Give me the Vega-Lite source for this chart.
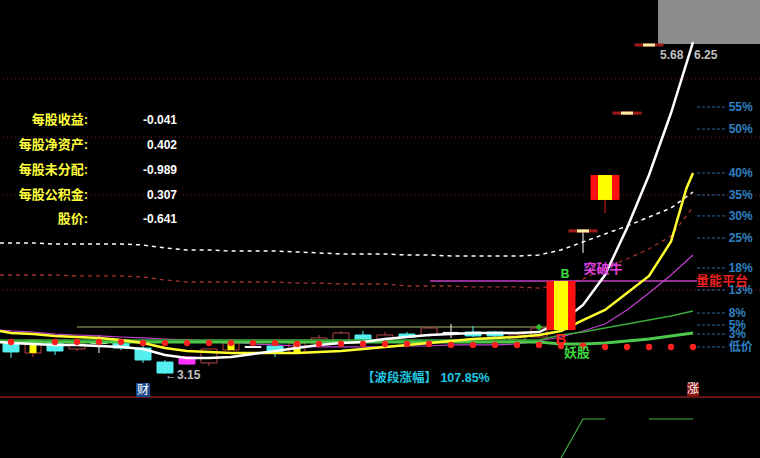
{
"$schema": "https://vega.github.io/schema/vega-lite/v6.json",
"width": 760, "height": 458, "padding": 0,
"autosize": {"type": "none"},
"background": "#000000",
"config": {"view": {"stroke": null}, "scale": {"continuousPadding": 0}, "text": {"font": "Liberation Sans, Noto Sans CJK SC, sans-serif"}},
"datasets": {
"grid": [{"p": 5.933}, {"p": 5.386}, {"p": 4.839}, {"p": 3.943}],
"lines": [
{"s":"W","k":-0.5,"p":3.452},{"s":"W","k":0,"p":3.442},{"s":"W","k":1,"p":3.433},{"s":"W","k":2,"p":3.424},{"s":"W","k":3,"p":3.424},{"s":"W","k":4,"p":3.414},{"s":"W","k":5,"p":3.405},{"s":"W","k":6,"p":3.386},{"s":"W","k":7,"p":3.329},{"s":"W","k":8,"p":3.301},{"s":"W","k":9,"p":3.301},{"s":"W","k":10,"p":3.310},{"s":"W","k":11,"p":3.339},{"s":"W","k":12,"p":3.367},{"s":"W","k":13,"p":3.395},{"s":"W","k":14,"p":3.424},{"s":"W","k":15,"p":3.442},{"s":"W","k":16,"p":3.452},{"s":"W","k":17,"p":3.480},{"s":"W","k":18,"p":3.499},{"s":"W","k":19,"p":3.518},{"s":"W","k":20,"p":3.527},{"s":"W","k":21,"p":3.537},{"s":"W","k":22,"p":3.537},{"s":"W","k":23,"p":3.537},{"s":"W","k":24,"p":3.546},{"s":"W","k":25,"p":3.64},{"s":"W","k":26,"p":3.801},{"s":"W","k":27,"p":4.084},{"s":"W","k":28,"p":4.527},{"s":"W","k":29,"p":5.027},{"s":"W","k":30,"p":5.612},{"s":"W","k":31,"p":6.282},
{"s":"Y","k":-0.5,"p":3.556},{"s":"Y","k":0,"p":3.537},{"s":"Y","k":1,"p":3.527},{"s":"Y","k":2,"p":3.509},{"s":"Y","k":3,"p":3.499},{"s":"Y","k":4,"p":3.490},{"s":"Y","k":5,"p":3.471},{"s":"Y","k":6,"p":3.442},{"s":"Y","k":7,"p":3.395},{"s":"Y","k":8,"p":3.367},{"s":"Y","k":9,"p":3.358},{"s":"Y","k":10,"p":3.348},{"s":"Y","k":11,"p":3.348},{"s":"Y","k":12,"p":3.348},{"s":"Y","k":13,"p":3.348},{"s":"Y","k":14,"p":3.358},{"s":"Y","k":15,"p":3.367},{"s":"Y","k":16,"p":3.386},{"s":"Y","k":17,"p":3.405},{"s":"Y","k":18,"p":3.424},{"s":"Y","k":19,"p":3.442},{"s":"Y","k":20,"p":3.461},{"s":"Y","k":21,"p":3.480},{"s":"Y","k":22,"p":3.490},{"s":"Y","k":23,"p":3.499},{"s":"Y","k":24,"p":3.518},{"s":"Y","k":25,"p":3.556},{"s":"Y","k":26,"p":3.659},{"s":"Y","k":27,"p":3.754},{"s":"Y","k":28,"p":3.914},{"s":"Y","k":29,"p":4.075},{"s":"Y","k":30,"p":4.40},{"s":"Y","k":30.7,"p":4.90},{"s":"Y","k":31,"p":5.046},
{"s":"M","k":-0.5,"p":3.565},{"s":"M","k":0,"p":3.556},{"s":"M","k":1,"p":3.546},{"s":"M","k":2,"p":3.527},{"s":"M","k":3,"p":3.518},{"s":"M","k":4,"p":3.509},{"s":"M","k":5,"p":3.499},{"s":"M","k":6,"p":3.490},{"s":"M","k":7,"p":3.480},{"s":"M","k":8,"p":3.471},{"s":"M","k":9,"p":3.461},{"s":"M","k":10,"p":3.452},{"s":"M","k":11,"p":3.433},{"s":"M","k":12,"p":3.424},{"s":"M","k":13,"p":3.414},{"s":"M","k":14,"p":3.405},{"s":"M","k":15,"p":3.405},{"s":"M","k":16,"p":3.405},{"s":"M","k":17,"p":3.405},{"s":"M","k":18,"p":3.414},{"s":"M","k":19,"p":3.414},{"s":"M","k":20,"p":3.424},{"s":"M","k":21,"p":3.424},{"s":"M","k":22,"p":3.424},{"s":"M","k":23,"p":3.433},{"s":"M","k":24,"p":3.461},{"s":"M","k":25,"p":3.499},{"s":"M","k":26,"p":3.556},{"s":"M","k":27,"p":3.622},{"s":"M","k":28,"p":3.754},{"s":"M","k":29,"p":3.914},{"s":"M","k":30,"p":4.084},{"s":"M","k":31,"p":4.273},
{"s":"GU","k":-0.5,"p":3.471},{"s":"GU","k":24,"p":3.471},{"s":"GU","k":25,"p":3.518},{"s":"GU","k":26,"p":3.546},{"s":"GU","k":27,"p":3.584},{"s":"GU","k":28,"p":3.622},{"s":"GU","k":29,"p":3.659},{"s":"GU","k":30,"p":3.697},{"s":"GU","k":31,"p":3.744},
{"s":"GL","k":-0.5,"p":3.452},{"s":"GL","k":24,"p":3.452},{"s":"GL","k":25,"p":3.433},{"s":"GL","k":26,"p":3.433},{"s":"GL","k":27,"p":3.442},{"s":"GL","k":28,"p":3.461},{"s":"GL","k":29,"p":3.480},{"s":"GL","k":30,"p":3.509},{"s":"GL","k":31,"p":3.537},
{"s":"WD","k":-0.5,"p":4.386},{"s":"WD","k":0,"p":4.386},{"s":"WD","k":1,"p":4.386},{"s":"WD","k":2,"p":4.376},{"s":"WD","k":3,"p":4.376},{"s":"WD","k":4,"p":4.376},{"s":"WD","k":5,"p":4.376},{"s":"WD","k":6,"p":4.367},{"s":"WD","k":7,"p":4.339},{"s":"WD","k":8,"p":4.320},{"s":"WD","k":9,"p":4.320},{"s":"WD","k":10,"p":4.310},{"s":"WD","k":11,"p":4.310},{"s":"WD","k":12,"p":4.310},{"s":"WD","k":13,"p":4.301},{"s":"WD","k":14,"p":4.292},{"s":"WD","k":15,"p":4.282},{"s":"WD","k":16,"p":4.282},{"s":"WD","k":17,"p":4.282},{"s":"WD","k":18,"p":4.273},{"s":"WD","k":19,"p":4.273},{"s":"WD","k":20,"p":4.263},{"s":"WD","k":21,"p":4.263},{"s":"WD","k":22,"p":4.263},{"s":"WD","k":23,"p":4.263},{"s":"WD","k":24,"p":4.273},{"s":"WD","k":25,"p":4.320},{"s":"WD","k":26,"p":4.395},{"s":"WD","k":27,"p":4.471},{"s":"WD","k":28,"p":4.546},{"s":"WD","k":29,"p":4.631},{"s":"WD","k":30,"p":4.716},{"s":"WD","k":31,"p":4.867},
{"s":"RD","k":-0.5,"p":4.084},{"s":"RD","k":0,"p":4.084},{"s":"RD","k":1,"p":4.084},{"s":"RD","k":2,"p":4.084},{"s":"RD","k":3,"p":4.075},{"s":"RD","k":4,"p":4.075},{"s":"RD","k":5,"p":4.075},{"s":"RD","k":6,"p":4.065},{"s":"RD","k":7,"p":4.037},{"s":"RD","k":8,"p":4.018},{"s":"RD","k":9,"p":4.018},{"s":"RD","k":10,"p":4.018},{"s":"RD","k":11,"p":4.018},{"s":"RD","k":12,"p":4.018},{"s":"RD","k":13,"p":4.008},{"s":"RD","k":14,"p":4.008},{"s":"RD","k":15,"p":3.999},{"s":"RD","k":16,"p":3.999},{"s":"RD","k":17,"p":3.999},{"s":"RD","k":18,"p":3.980},{"s":"RD","k":19,"p":3.980},{"s":"RD","k":20,"p":3.980},{"s":"RD","k":21,"p":3.971},{"s":"RD","k":22,"p":3.971},{"s":"RD","k":23,"p":3.971},{"s":"RD","k":24,"p":3.961},{"s":"RD","k":25,"p":3.989},{"s":"RD","k":26,"p":4.046},{"s":"RD","k":27,"p":4.150},{"s":"RD","k":28,"p":4.235},{"s":"RD","k":29,"p":4.329},{"s":"RD","k":30,"p":4.452},{"s":"RD","k":31,"p":4.725}
],
"candles": [
{"k":0,"t":"dn","o":3.442,"c":3.358,"h":3.442,"l":3.301},
{"k":1,"t":"yl","o":3.348,"c":3.471,"h":3.471,"l":3.310},
{"k":2,"t":"dn","o":3.442,"c":3.367,"h":3.452,"l":3.329},
{"k":3,"t":"up","o":3.386,"c":3.433,"h":3.442,"l":3.367},
{"k":4,"t":"dj","o":3.447,"c":3.437,"h":3.518,"l":3.348},
{"k":5,"t":"dn","o":3.452,"c":3.395,"h":3.461,"l":3.376},
{"k":6,"t":"dn","o":3.395,"c":3.282,"h":3.414,"l":3.254},
{"k":7,"t":"dn","o":3.263,"c":3.159,"h":3.282,"l":3.150},
{"k":8,"t":"mg","o":3.244,"c":3.310,"h":3.310,"l":3.235},
{"k":9,"t":"up","o":3.254,"c":3.386,"h":3.386,"l":3.226},
{"k":10,"t":"yl","o":3.376,"c":3.442,"h":3.480,"l":3.376},
{"k":11,"t":"dj","o":3.410,"c":3.400,"h":3.414,"l":3.395},
{"k":12,"t":"dn","o":3.414,"c":3.358,"h":3.424,"l":3.310},
{"k":13,"t":"yl","o":3.348,"c":3.442,"h":3.461,"l":3.348},
{"k":14,"t":"up","o":3.442,"c":3.490,"h":3.518,"l":3.433},
{"k":15,"t":"up","o":3.452,"c":3.537,"h":3.556,"l":3.442},
{"k":16,"t":"dn","o":3.518,"c":3.471,"h":3.556,"l":3.452},
{"k":17,"t":"up","o":3.471,"c":3.518,"h":3.546,"l":3.461},
{"k":18,"t":"dn","o":3.527,"c":3.499,"h":3.546,"l":3.490},
{"k":19,"t":"up","o":3.518,"c":3.584,"h":3.593,"l":3.499},
{"k":20,"t":"dj","o":3.542,"c":3.532,"h":3.622,"l":3.490},
{"k":21,"t":"dn","o":3.546,"c":3.509,"h":3.603,"l":3.499},
{"k":22,"t":"dn","o":3.546,"c":3.509,"h":3.556,"l":3.490},
{"k":23,"t":"up","o":3.471,"c":3.518,"h":3.537,"l":3.461},
{"k":24,"t":"up","o":3.499,"c":3.584,"h":3.603,"l":3.490},
{"k":25,"t":"bg","o":3.565,"c":4.027,"h":4.027,"l":3.565},
{"k":26,"t":"fw","o":4.485,"c":4.514,"h":4.514,"l":4.292},
{"k":27,"t":"bg","o":4.792,"c":5.027,"h":5.027,"l":4.669},
{"k":28,"t":"fl","o":5.597,"c":5.626,"h":5.626,"l":5.597},
{"k":29,"t":"fl","o":6.240,"c":6.268,"h":6.268,"l":6.240}
],
"dots": [
{"k":0,"p":3.452},{"k":2,"p":3.452},{"k":3,"p":3.452},{"k":4,"p":3.452},{"k":5,"p":3.452},{"k":6,"p":3.442},{"k":7,"p":3.442},{"k":8,"p":3.442},{"k":9,"p":3.442},{"k":10,"p":3.442},{"k":11,"p":3.442},{"k":12,"p":3.442},{"k":13,"p":3.433},{"k":14,"p":3.433},{"k":15,"p":3.433},{"k":16,"p":3.433},{"k":17,"p":3.433},{"k":18,"p":3.433},{"k":19,"p":3.433},{"k":20,"p":3.424},{"k":21,"p":3.424},{"k":22,"p":3.424},{"k":23,"p":3.424},{"k":24,"p":3.424},{"k":25,"p":3.414},{"k":26,"p":3.414},{"k":27,"p":3.405},{"k":28,"p":3.405},{"k":29,"p":3.405},{"k":30,"p":3.405},{"k":31,"p":3.405}
],
"fin": [
{"n":"每股收益:","v":"-0.041","p":5.546},
{"n":"每股净资产:","v":"0.402","p":5.310},
{"n":"每股未分配:","v":"-0.989","p":5.075},
{"n":"每股公积金:","v":"0.307","p":4.839},
{"n":"股价:","v":"-0.641","p":4.612}
],
"pct": [
{"t":"55%","p":5.669},{"t":"50%","p":5.461},{"t":"40%","p":5.046},{"t":"35%","p":4.839},{"t":"30%","p":4.641},{"t":"25%","p":4.433},{"t":"18%","p":4.150},{"t":"13%","p":3.943},{"t":"8%","p":3.725},{"t":"5%","p":3.612},{"t":"3%","p":3.527},{"t":"低价","p":3.405}
],
"lowpanel": [
{"k":25,"p":2.3575,"g":"a"},{"k":26,"p":2.7255,"g":"a"},{"k":27,"p":2.7255,"g":"a"},
{"k":29,"p":2.7255,"g":"b"},{"k":30,"p":2.7255,"g":"b"},{"k":31,"p":2.7255,"g":"b"}
]
},
"layer": [
{"data": {"name": "grid"}, "mark": {"type": "rule", "color": "#7a1616", "strokeDash": [1, 3], "strokeWidth": 1},
 "encoding": {"y": {"field": "p", "type": "quantitative", "scale": {"domain": [2.3575, 6.6783], "nice": false, "zero": false}, "axis": null}}},
{"data": {"values": [{"p": 2.933}]}, "mark": {"type": "rule", "color": "#8b1c1c", "strokeWidth": 1.5},
 "encoding": {"y": {"field": "p", "type": "quantitative", "scale": {"domain": [2.3575, 6.6783], "nice": false, "zero": false}, "axis": null}}},
{"data": {"values": [{"k": 29.41, "k2": 34.045, "p": 6.263, "p2": 6.6783}]}, "mark": {"type": "rect", "color": "#8c8c8c"},
 "encoding": {"x": {"field": "k", "type": "quantitative", "scale": {"domain": [-0.5, 34.045], "nice": false, "zero": false, "padding": 0}, "axis": null}, "x2": {"field": "k2"},
  "y": {"field": "p", "type": "quantitative", "scale": {"domain": [2.3575, 6.6783], "nice": false, "zero": false}, "axis": null}, "y2": {"field": "p2"}}},
{"data": {"name": "lines"}, "transform": [{"filter": "datum.s === 'WD'"}], "mark": {"type": "line", "color": "#ffffff", "strokeWidth": 1.5, "strokeDash": [4, 4]},
 "encoding": {"x": {"field": "k", "type": "quantitative", "scale": {"domain": [-0.5, 34.045], "nice": false, "zero": false, "padding": 0}, "axis": null},
  "y": {"field": "p", "type": "quantitative", "scale": {"domain": [2.3575, 6.6783], "nice": false, "zero": false}, "axis": null}}},
{"data": {"name": "lines"}, "transform": [{"filter": "datum.s === 'RD'"}], "mark": {"type": "line", "color": "#a83030", "strokeWidth": 1.3, "strokeDash": [4, 4]},
 "encoding": {"x": {"field": "k", "type": "quantitative", "scale": {"domain": [-0.5, 34.045], "nice": false, "zero": false, "padding": 0}, "axis": null},
  "y": {"field": "p", "type": "quantitative", "scale": {"domain": [2.3575, 6.6783], "nice": false, "zero": false}, "axis": null}}},
{"data": {"values": [{"k": 3, "k2": 25, "p": 3.593}]}, "mark": {"type": "rule", "color": "#6b7b45", "strokeWidth": 1.5},
 "encoding": {"x": {"field": "k", "type": "quantitative", "scale": {"domain": [-0.5, 34.045], "nice": false, "zero": false, "padding": 0}, "axis": null}, "x2": {"field": "k2"},
  "y": {"field": "p", "type": "quantitative", "scale": {"domain": [2.3575, 6.6783], "nice": false, "zero": false}, "axis": null}}},
{"data": {"values": [{"k": 19.05, "k2": 31.18, "p": 4.027}]}, "mark": {"type": "rule", "color": "#c040c0", "strokeWidth": 1.5},
 "encoding": {"x": {"field": "k", "type": "quantitative", "scale": {"domain": [-0.5, 34.045], "nice": false, "zero": false, "padding": 0}, "axis": null}, "x2": {"field": "k2"},
  "y": {"field": "p", "type": "quantitative", "scale": {"domain": [2.3575, 6.6783], "nice": false, "zero": false}, "axis": null}}},
{"data": {"name": "candles"}, "transform": [{"filter": "indexof(['bg','fl','fw'], datum.t) < 0"}], "mark": {"type": "rule", "strokeWidth": 1},
 "encoding": {"x": {"field": "k", "type": "quantitative", "scale": {"domain": [-0.5, 34.045], "nice": false, "zero": false, "padding": 0}, "axis": null},
  "y": {"field": "l", "type": "quantitative", "scale": {"domain": [2.3575, 6.6783], "nice": false, "zero": false}, "axis": null}, "y2": {"field": "h"},
  "color": {"field": "t", "type": "nominal", "legend": null, "scale": {"domain": ["dn","up","yl","mg","dj","bg","fl","fw"], "range": ["#54f0f0","#b84848","#c84040","#ff30ff","#ffffff","#e02020","#a02020","#ffffff"]}}}},
{"data": {"name": "candles"}, "transform": [{"filter": "indexof(['bg','fl','fw'], datum.t) < 0"}], "mark": {"type": "bar", "width": 16, "strokeWidth": 1},
 "encoding": {"x": {"field": "k", "type": "quantitative", "scale": {"domain": [-0.5, 34.045], "nice": false, "zero": false, "padding": 0}, "axis": null},
  "y": {"field": "o", "type": "quantitative", "scale": {"domain": [2.3575, 6.6783], "nice": false, "zero": false}, "axis": null}, "y2": {"field": "c"},
  "fill": {"field": "t", "type": "nominal", "legend": null, "scale": {"domain": ["dn","up","yl","mg","dj","bg","fl","fw"], "range": ["#54f0f0","#000000","#000000","#ff30ff","#ffffff","#ff1010","#a01c1c","#a01c1c"]}},
  "stroke": {"field": "t", "type": "nominal", "legend": null, "scale": {"domain": ["dn","up","yl","mg","dj","bg","fl","fw"], "range": ["#54f0f0","#b84848","#c84040","#ff30ff","#ffffff","#ff1010","#a01c1c","#a01c1c"]}}}},
{"data": {"name": "candles"}, "transform": [{"filter": "datum.t === 'yl'"}], "mark": {"type": "bar", "width": 7, "color": "#ffff00"},
 "encoding": {"x": {"field": "k", "type": "quantitative", "scale": {"domain": [-0.5, 34.045], "nice": false, "zero": false, "padding": 0}, "axis": null},
  "y": {"field": "o", "type": "quantitative", "scale": {"domain": [2.3575, 6.6783], "nice": false, "zero": false}, "axis": null}, "y2": {"field": "c"}}},
{"data": {"name": "lines"}, "transform": [{"filter": "datum.s === 'M'"}], "mark": {"type": "line", "color": "#c040d0", "strokeWidth": 1.2},
 "encoding": {"x": {"field": "k", "type": "quantitative", "scale": {"domain": [-0.5, 34.045], "nice": false, "zero": false, "padding": 0}, "axis": null},
  "y": {"field": "p", "type": "quantitative", "scale": {"domain": [2.3575, 6.6783], "nice": false, "zero": false}, "axis": null}}},
{"data": {"name": "lines"}, "transform": [{"filter": "datum.s === 'GL'"}], "mark": {"type": "line", "color": "#4cc84c", "strokeWidth": 3},
 "encoding": {"x": {"field": "k", "type": "quantitative", "scale": {"domain": [-0.5, 34.045], "nice": false, "zero": false, "padding": 0}, "axis": null},
  "y": {"field": "p", "type": "quantitative", "scale": {"domain": [2.3575, 6.6783], "nice": false, "zero": false}, "axis": null}}},
{"data": {"name": "lines"}, "transform": [{"filter": "datum.s === 'GU'"}], "mark": {"type": "line", "color": "#3aaa3a", "strokeWidth": 1.5},
 "encoding": {"x": {"field": "k", "type": "quantitative", "scale": {"domain": [-0.5, 34.045], "nice": false, "zero": false, "padding": 0}, "axis": null},
  "y": {"field": "p", "type": "quantitative", "scale": {"domain": [2.3575, 6.6783], "nice": false, "zero": false}, "axis": null}}},
{"data": {"name": "lines"}, "transform": [{"filter": "datum.s === 'Y'"}], "mark": {"type": "line", "color": "#ffff30", "strokeWidth": 2.5},
 "encoding": {"x": {"field": "k", "type": "quantitative", "scale": {"domain": [-0.5, 34.045], "nice": false, "zero": false, "padding": 0}, "axis": null},
  "y": {"field": "p", "type": "quantitative", "scale": {"domain": [2.3575, 6.6783], "nice": false, "zero": false}, "axis": null}}},
{"data": {"name": "lines"}, "transform": [{"filter": "datum.s === 'W'"}], "mark": {"type": "line", "color": "#ffffff", "strokeWidth": 2.5},
 "encoding": {"x": {"field": "k", "type": "quantitative", "scale": {"domain": [-0.5, 34.045], "nice": false, "zero": false, "padding": 0}, "axis": null},
  "y": {"field": "p", "type": "quantitative", "scale": {"domain": [2.3575, 6.6783], "nice": false, "zero": false}, "axis": null}}},
{"data": {"name": "candles"}, "transform": [{"filter": "indexof(['bg','fl','fw'], datum.t) >= 0"}], "mark": {"type": "rule", "strokeWidth": 1},
 "encoding": {"x": {"field": "k", "type": "quantitative", "scale": {"domain": [-0.5, 34.045], "nice": false, "zero": false, "padding": 0}, "axis": null},
  "y": {"field": "l", "type": "quantitative", "scale": {"domain": [2.3575, 6.6783], "nice": false, "zero": false}, "axis": null}, "y2": {"field": "h"},
  "color": {"field": "t", "type": "nominal", "legend": null, "scale": {"domain": ["dn","up","yl","mg","dj","bg","fl","fw"], "range": ["#54f0f0","#b84848","#c84040","#ff30ff","#ffffff","#e02020","#a02020","#ffffff"]}}}},
{"data": {"name": "candles"}, "transform": [{"filter": "indexof(['bg','fl','fw'], datum.t) >= 0"}], "mark": {"type": "bar", "width": 29, "strokeWidth": 0},
 "encoding": {"x": {"field": "k", "type": "quantitative", "scale": {"domain": [-0.5, 34.045], "nice": false, "zero": false, "padding": 0}, "axis": null},
  "y": {"field": "o", "type": "quantitative", "scale": {"domain": [2.3575, 6.6783], "nice": false, "zero": false}, "axis": null}, "y2": {"field": "c"},
  "fill": {"field": "t", "type": "nominal", "legend": null, "scale": {"domain": ["dn","up","yl","mg","dj","bg","fl","fw"], "range": ["#54f0f0","#000000","#000000","#ff30ff","#ffffff","#ff1010","#a01c1c","#a01c1c"]}}}},
{"data": {"name": "candles"}, "transform": [{"filter": "datum.t === 'bg'"}], "mark": {"type": "bar", "width": 14, "color": "#ffff00"},
 "encoding": {"x": {"field": "k", "type": "quantitative", "scale": {"domain": [-0.5, 34.045], "nice": false, "zero": false, "padding": 0}, "axis": null},
  "y": {"field": "o", "type": "quantitative", "scale": {"domain": [2.3575, 6.6783], "nice": false, "zero": false}, "axis": null}, "y2": {"field": "c"}}},
{"data": {"name": "candles"}, "transform": [{"filter": "datum.t === 'fl' || datum.t === 'fw'"}], "mark": {"type": "bar", "width": 12, "color": "#fff0a0"},
 "encoding": {"x": {"field": "k", "type": "quantitative", "scale": {"domain": [-0.5, 34.045], "nice": false, "zero": false, "padding": 0}, "axis": null},
  "y": {"field": "o", "type": "quantitative", "scale": {"domain": [2.3575, 6.6783], "nice": false, "zero": false}, "axis": null}, "y2": {"field": "c"}}},
{"data": {"name": "dots"}, "mark": {"type": "point", "filled": true, "shape": "circle", "size": 40, "color": "#ff2020", "opacity": 1},
 "encoding": {"x": {"field": "k", "type": "quantitative", "scale": {"domain": [-0.5, 34.045], "nice": false, "zero": false, "padding": 0}, "axis": null},
  "y": {"field": "p", "type": "quantitative", "scale": {"domain": [2.3575, 6.6783], "nice": false, "zero": false}, "axis": null}}},
{"data": {"values": [{"k": 24, "p": 3.593}]}, "mark": {"type": "point", "filled": true, "shape": "diamond", "size": 45, "color": "#30c030", "opacity": 1},
 "encoding": {"x": {"field": "k", "type": "quantitative", "scale": {"domain": [-0.5, 34.045], "nice": false, "zero": false, "padding": 0}, "axis": null},
  "y": {"field": "p", "type": "quantitative", "scale": {"domain": [2.3575, 6.6783], "nice": false, "zero": false}, "axis": null}}},
{"data": {"name": "pct"}, "mark": {"type": "rule", "color": "#2a6aa0", "strokeDash": [3, 2], "strokeWidth": 1},
 "encoding": {"x": {"datum": 31.18, "type": "quantitative", "scale": {"domain": [-0.5, 34.045], "nice": false, "zero": false, "padding": 0}, "axis": null}, "x2": {"datum": 32.55},
  "y": {"field": "p", "type": "quantitative", "scale": {"domain": [2.3575, 6.6783], "nice": false, "zero": false}, "axis": null}}},
{"data": {"name": "pct"}, "mark": {"type": "text", "align": "left", "baseline": "middle", "fontSize": 12, "fontWeight": "bold", "color": "#2f80c0"},
 "encoding": {"x": {"datum": 32.62, "type": "quantitative", "scale": {"domain": [-0.5, 34.045], "nice": false, "zero": false, "padding": 0}, "axis": null},
  "y": {"field": "p", "type": "quantitative", "scale": {"domain": [2.3575, 6.6783], "nice": false, "zero": false}, "axis": null}, "text": {"field": "t"}}},
{"data": {"name": "lowpanel"}, "mark": {"type": "line", "color": "#40b040", "strokeWidth": 1.2},
 "encoding": {"x": {"field": "k", "type": "quantitative", "scale": {"domain": [-0.5, 34.045], "nice": false, "zero": false, "padding": 0}, "axis": null},
  "y": {"field": "p", "type": "quantitative", "scale": {"domain": [2.3575, 6.6783], "nice": false, "zero": false}, "axis": null}, "detail": {"field": "g"}}},
{"data": {"values": [{"k": 5.68, "k2": 6.32, "p": 2.933, "p2": 3.065}]}, "mark": {"type": "rect", "color": "#1a4a8c"},
 "encoding": {"x": {"field": "k", "type": "quantitative", "scale": {"domain": [-0.5, 34.045], "nice": false, "zero": false, "padding": 0}, "axis": null}, "x2": {"field": "k2"},
  "y": {"field": "p", "type": "quantitative", "scale": {"domain": [2.3575, 6.6783], "nice": false, "zero": false}, "axis": null}, "y2": {"field": "p2"}}},
{"data": {"values": [{"k": 30.73, "k2": 31.27, "p": 2.942, "p2": 3.065}]}, "mark": {"type": "rect", "color": "#8c1414"},
 "encoding": {"x": {"field": "k", "type": "quantitative", "scale": {"domain": [-0.5, 34.045], "nice": false, "zero": false, "padding": 0}, "axis": null}, "x2": {"field": "k2"},
  "y": {"field": "p", "type": "quantitative", "scale": {"domain": [2.3575, 6.6783], "nice": false, "zero": false}, "axis": null}, "y2": {"field": "p2"}}},
{"data": {"values": [{"k": 6, "p": 3.0, "t": "财"}, {"k": 31, "p": 3.005, "t": "涨"}]}, "mark": {"type": "text", "align": "center", "baseline": "middle", "fontSize": 12, "color": "#ffffff"},
 "encoding": {"x": {"field": "k", "type": "quantitative", "scale": {"domain": [-0.5, 34.045], "nice": false, "zero": false, "padding": 0}, "axis": null},
  "y": {"field": "p", "type": "quantitative", "scale": {"domain": [2.3575, 6.6783], "nice": false, "zero": false}, "axis": null}, "text": {"field": "t"}}},
{"data": {"name": "fin"}, "mark": {"type": "text", "align": "right", "baseline": "middle", "fontSize": 13, "fontWeight": "bold", "color": "#ffff3c"},
 "encoding": {"x": {"datum": 3.5, "type": "quantitative", "scale": {"domain": [-0.5, 34.045], "nice": false, "zero": false, "padding": 0}, "axis": null},
  "y": {"field": "p", "type": "quantitative", "scale": {"domain": [2.3575, 6.6783], "nice": false, "zero": false}, "axis": null}, "text": {"field": "n"}}},
{"data": {"name": "fin"}, "mark": {"type": "text", "align": "right", "baseline": "middle", "fontSize": 12, "fontWeight": "bold", "color": "#ffffff"},
 "encoding": {"x": {"datum": 7.545, "type": "quantitative", "scale": {"domain": [-0.5, 34.045], "nice": false, "zero": false, "padding": 0}, "axis": null},
  "y": {"field": "p", "type": "quantitative", "scale": {"domain": [2.3575, 6.6783], "nice": false, "zero": false}, "axis": null}, "text": {"field": "v"}}},
{"data": {"values": [{"k": 15.95, "p": 3.112, "t": "【波段涨幅】 107.85%"}]}, "mark": {"type": "text", "align": "left", "baseline": "middle", "fontSize": 12.5, "fontWeight": "bold", "color": "#20c8e0"},
 "encoding": {"x": {"field": "k", "type": "quantitative", "scale": {"domain": [-0.5, 34.045], "nice": false, "zero": false, "padding": 0}, "axis": null},
  "y": {"field": "p", "type": "quantitative", "scale": {"domain": [2.3575, 6.6783], "nice": false, "zero": false}, "axis": null}, "text": {"field": "t"}}},
{"data": {"values": [{"k": 7.0, "p": 3.141, "t": "←3.15"}, {"k": 29.5, "p": 6.160, "t": "5.68"}, {"k": 31.05, "p": 6.160, "t": "6.25"}]}, "mark": {"type": "text", "align": "left", "baseline": "middle", "fontSize": 12, "fontWeight": "bold", "color": "#c0c0c0"},
 "encoding": {"x": {"field": "k", "type": "quantitative", "scale": {"domain": [-0.5, 34.045], "nice": false, "zero": false, "padding": 0}, "axis": null},
  "y": {"field": "p", "type": "quantitative", "scale": {"domain": [2.3575, 6.6783], "nice": false, "zero": false}, "axis": null}, "text": {"field": "t"}}},
{"data": {"values": [{"k": 25.18, "p": 4.093, "t": "B"}]}, "mark": {"type": "text", "align": "center", "baseline": "middle", "fontSize": 12, "fontWeight": "bold", "color": "#40e040"},
 "encoding": {"x": {"field": "k", "type": "quantitative", "scale": {"domain": [-0.5, 34.045], "nice": false, "zero": false, "padding": 0}, "axis": null},
  "y": {"field": "p", "type": "quantitative", "scale": {"domain": [2.3575, 6.6783], "nice": false, "zero": false}, "axis": null}, "text": {"field": "t"}}},
{"data": {"values": [{"k": 26.91, "p": 4.140, "t": "突破牛"}]}, "mark": {"type": "text", "align": "center", "baseline": "middle", "fontSize": 13, "fontWeight": "bold", "color": "#e040e0"},
 "encoding": {"x": {"field": "k", "type": "quantitative", "scale": {"domain": [-0.5, 34.045], "nice": false, "zero": false, "padding": 0}, "axis": null},
  "y": {"field": "p", "type": "quantitative", "scale": {"domain": [2.3575, 6.6783], "nice": false, "zero": false}, "axis": null}, "text": {"field": "t"}}},
{"data": {"values": [{"k": 25.0, "p": 3.48, "t": "B"}]}, "mark": {"type": "text", "align": "center", "baseline": "middle", "fontSize": 15, "fontWeight": "bold", "color": "#ff2020"},
 "encoding": {"x": {"field": "k", "type": "quantitative", "scale": {"domain": [-0.5, 34.045], "nice": false, "zero": false, "padding": 0}, "axis": null},
  "y": {"field": "p", "type": "quantitative", "scale": {"domain": [2.3575, 6.6783], "nice": false, "zero": false}, "axis": null}, "text": {"field": "t"}}},
{"data": {"values": [{"k": 25.73, "p": 3.348, "t": "妖股"}]}, "mark": {"type": "text", "align": "center", "baseline": "middle", "fontSize": 13, "fontWeight": "bold", "color": "#40d840"},
 "encoding": {"x": {"field": "k", "type": "quantitative", "scale": {"domain": [-0.5, 34.045], "nice": false, "zero": false, "padding": 0}, "axis": null},
  "y": {"field": "p", "type": "quantitative", "scale": {"domain": [2.3575, 6.6783], "nice": false, "zero": false}, "axis": null}, "text": {"field": "t"}}},
{"data": {"values": [{"k": 32.32, "p": 4.027, "t": "量能平台"}]}, "mark": {"type": "text", "align": "center", "baseline": "middle", "fontSize": 13, "fontWeight": "bold", "color": "#e82020"},
 "encoding": {"x": {"field": "k", "type": "quantitative", "scale": {"domain": [-0.5, 34.045], "nice": false, "zero": false, "padding": 0}, "axis": null},
  "y": {"field": "p", "type": "quantitative", "scale": {"domain": [2.3575, 6.6783], "nice": false, "zero": false}, "axis": null}, "text": {"field": "t"}}}
]
}
